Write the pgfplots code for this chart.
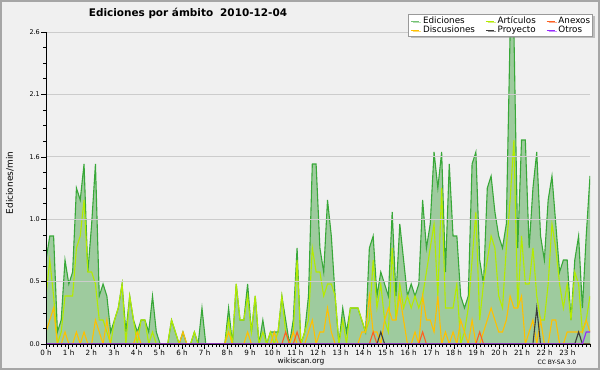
\documentclass[border=0pt]{standalone}
\usepackage{pgfplots}
\pgfplotsset{compat=1.18}
\usepackage{pgfplotstable}
\usepackage{fontspec}
\setmainfont{DejaVu Sans}
\usetikzlibrary{shadows}
\definecolor{bg}{RGB}{240,240,240}
\definecolor{edline}{RGB}{56,168,56}
\definecolor{edfill}{RGB}{158,203,158}
\definecolor{art}{RGB}{180,235,0}
\definecolor{disc}{RGB}{255,192,0}
\definecolor{anx}{RGB}{255,96,32}
\definecolor{proy}{RGB}{60,60,60}
\definecolor{otr}{RGB}{150,40,255}
\definecolor{gridc}{RGB}{204,204,204}
\pgfplotstableread{
i ed art disc anx proy otr
0 0.7 0.4 0.1 0 0 0
1 0.9 0.7 0.2 0 0 0
2 0.9 0.4 0.3 0 0 0
3 0.1 0 0 0 0 0
4 0.2 0.1 0 0 0 0
5 0.7 0.4 0.1 0 0 0
6 0.5 0.4 0 0 0 0
7 0.6 0.4 0 0 0 0
8 1.3 0.8 0.1 0 0 0
9 1.2 0.9 0 0 0 0
10 1.5 1.2 0.1 0 0 0
11 0.6 0.6 0 0 0 0
12 1.0 0.6 0 0 0 0
13 1.5 0.5 0.2 0 0 0
14 0.4 0.2 0.1 0 0 0
15 0.5 0.2 0 0 0 0
16 0.4 0.1 0.2 0 0 0
17 0.1 0 0 0 0 0
18 0.2 0.2 0 0 0 0
19 0.3 0.3 0 0 0 0
20 0.5 0.5 0 0 0 0
21 0.1 0 0 0 0 0
22 0.4 0.4 0 0 0 0
23 0.2 0.2 0 0 0 0
24 0.1 0 0.1 0 0 0
25 0.2 0.2 0 0 0 0
26 0.2 0.2 0 0 0 0
27 0.1 0 0 0 0 0
28 0.4 0.1 0 0 0 0
29 0.1 0 0 0 0 0
30 0 0 0 0 0 0
31 0 0 0 0 0 0
32 0 0 0 0 0 0
33 0.2 0.2 0 0 0 0
34 0.1 0.1 0 0 0 0
35 0 0 0 0 0 0
36 0.1 0 0.1 0 0 0
37 0 0 0 0 0 0
38 0 0 0 0 0 0
39 0.1 0.1 0 0 0 0
40 0 0 0 0 0 0
41 0.3 0 0 0 0 0
42 0 0 0 0 0 0
43 0 0 0 0 0 0
44 0 0 0 0 0 0
45 0 0 0 0 0 0
46 0 0 0 0 0 0
47 0 0 0 0 0 0
48 0.3 0.2 0.1 0 0 0
49 0 0 0 0 0 0
50 0.5 0.5 0 0 0 0
51 0.2 0.2 0 0 0 0
52 0.2 0.2 0 0 0 0
53 0.5 0.4 0.1 0 0 0
54 0.1 0.1 0 0 0 0
55 0.4 0.4 0 0 0 0
56 0 0 0 0 0 0
57 0.2 0.1 0 0 0 0
58 0 0 0 0 0 0
59 0.1 0.1 0 0 0 0
60 0.1 0 0.1 0 0 0
61 0.1 0.1 0 0 0 0
62 0.4 0.4 0 0 0 0
63 0.2 0.1 0 0.1 0 0
64 0 0 0 0 0 0
65 0.2 0.1 0.1 0 0 0
66 0.8 0.7 0 0.1 0 0
67 0 0 0 0 0 0
68 0.1 0.1 0 0 0 0
69 0.4 0.2 0.1 0 0 0
70 1.5 0.8 0.2 0 0 0
71 1.5 0.6 0 0 0 0
72 0.8 0.6 0.1 0 0 0
73 0.6 0.4 0.1 0 0 0
74 1.2 0.5 0.3 0 0 0
75 0.9 0.5 0.1 0 0 0
76 0.4 0.4 0 0 0 0
77 0 0 0 0 0 0
78 0.3 0.2 0 0 0 0
79 0.1 0 0 0 0 0
80 0.3 0.3 0 0 0 0
81 0.3 0.3 0 0 0 0
82 0.3 0.3 0 0 0 0
83 0.2 0.2 0.1 0 0 0
84 0.1 0.1 0.1 0 0 0
85 0.8 0.2 0.4 0 0 0
86 0.9 0.7 0.1 0.1 0 0
87 0.4 0.3 0.1 0 0 0
88 0.6 0.5 0 0 0.1 0
89 0.5 0.2 0.2 0 0 0
90 0.4 0.1 0.3 0 0 0
91 1.1 0.8 0.2 0 0 0
92 0.4 0.2 0.2 0 0 0
93 1.0 0.5 0.4 0 0 0
94 0.7 0.3 0.2 0 0 0
95 0.4 0.4 0 0 0 0
96 0.5 0.3 0 0 0 0
97 0.4 0.4 0.1 0 0 0
98 0.5 0.3 0 0 0 0
99 1.2 0.4 0.4 0.1 0 0
100 0.8 0.6 0.2 0 0 0
101 1.0 0.8 0.2 0 0 0
102 1.6 1.0 0.1 0 0 0
103 1.3 0.4 0.4 0 0 0
104 1.6 1.3 0 0 0 0
105 0.6 0.3 0.1 0 0 0
106 1.5 0.3 0 0 0 0
107 0.9 0.3 0.1 0 0 0
108 0.9 0.5 0 0 0 0
109 0.4 0 0.2 0 0 0
110 0.3 0.1 0.1 0 0 0
111 0.4 0.3 0 0 0 0
112 1.5 0.7 0.2 0 0 0
113 1.6 1.1 0 0 0 0
114 0.7 0.2 0 0.1 0 0
115 0.5 0.5 0.1 0 0 0
116 1.3 0.7 0.2 0 0 0
117 1.4 0.9 0.3 0 0 0
118 1.1 0.8 0.2 0 0 0
119 0.9 0.4 0.1 0 0 0
120 0.8 0.3 0.1 0 0 0
121 1.0 0.8 0.2 0 0 0
122 2.6 1.2 0.4 0 0 0
123 2.6 1.7 0.3 0 0 0
124 0.8 0.3 0.3 0 0 0
125 1.7 0.9 0.4 0 0 0
126 1.7 0.5 0 0 0 0
127 0.8 0.5 0.1 0 0 0
128 1.3 0.8 0.2 0 0 0
129 1.6 0.4 0 0 0.3 0
130 0.9 0.2 0.2 0 0 0
131 0.7 0.2 0 0 0 0
132 1.2 0.5 0 0 0 0
133 1.4 1.0 0.2 0 0 0
134 1.0 0.8 0.2 0 0 0
135 0.6 0.5 0 0 0 0
136 0.7 0.3 0 0 0 0
137 0.7 0.5 0.1 0 0 0
138 0.2 0.2 0.1 0 0 0
139 0.7 0.6 0.1 0 0 0
140 0.9 0.5 0.1 0 0.1 0
141 0.3 0.1 0.1 0 0 0
142 0.9 0.2 0.2 0 0 0.1
143 1.4 0.4 0.1 0 0 0.1
}\datatable
\begin{document}
\begin{tikzpicture}[x=1bp,y=1bp]
\useasboundingbox (0,0) rectangle (600,370);
\fill[bg] (0,0) rectangle (600,370);
\draw[black!35, line width=2bp] (1,1) rectangle (599,369);
\begin{axis}[
  at={(46bp,26bp)}, anchor=south west,
  scale only axis, width=544bp, height=312bp,
  xmin=0, xmax=143, ymin=0, ymax=2.6,
  axis x line*=bottom, axis y line*=left,
  axis line style={-, black, line width=0.9bp},
  axis on top,
  xtick={0,5.958333,...,137.1},
  xticklabels={0 h,1 h,2 h,3 h,4 h,5 h,6 h,7 h,8 h,9 h,10 h,11 h,12 h,13 h,14 h,15 h,16 h,17 h,18 h,19 h,20 h,21 h,22 h,23 h},
  minor xtick={0,0.993056,...,143.1},
  ytick={0,0.52,1.04,1.56,2.08,2.6},
  yticklabels={0.0,0.5,1.0,1.6,2.1,2.6},
  minor y tick num=3,
  tick align=outside,
  major tick length=5bp, minor tick length=3bp,
  tick style={black, line width=0.6bp},
  ymajorgrids, grid style={gridc, line width=0.8bp},
  x tick label style={font=\fontsize{7.2}{8}\selectfont, inner sep=1bp},
  y tick label style={font=\fontsize{6.5}{7}\selectfont, inner sep=1bp},
  legend columns=3,
  legend cell align=left,
  legend style={at={(rel axis cs:1.0055,1.0577)}, anchor=north east,
    draw=black!40, line width=1bp, fill=white,
    drop shadow={shadow xshift=2bp, shadow yshift=-2bp, fill=black!45},
    font=\fontsize{8.8}{9}\selectfont,
    inner sep=2bp, row sep=0pt,
    nodes={inner sep=0.4bp, text height=6.4bp, text depth=1.8bp},
    /tikz/every odd column/.append style={column sep=3bp},
    /tikz/every even column/.append style={column sep=10bp}},
  legend image code/.code={\draw[#1, line width=0.8bp] (0bp,0bp) -- (8bp,0bp);},
]
\addlegendimage{edline!70}\addlegendentry{Ediciones}
\addlegendimage{art}\addlegendentry{Artículos}
\addlegendimage{anx}\addlegendentry{Anexos}
\addlegendimage{disc}\addlegendentry{Discusiones}
\addlegendimage{proy}\addlegendentry{Proyecto}
\addlegendimage{otr}\addlegendentry{Otros}
\addplot[fill=edfill, draw=none, forget plot] table[x=i,y=ed]{\datatable} \closedcycle;
\addplot[edline, line width=1.1bp, forget plot] table[x=i,y=ed]{\datatable};
\addplot[art, line width=1.1bp, forget plot] table[x=i,y=art]{\datatable};
\addplot[disc, line width=1.1bp, forget plot] table[x=i,y=disc]{\datatable};
\addplot[anx, line width=1.1bp, forget plot] table[x=i,y=anx]{\datatable};
\addplot[proy, line width=1.1bp, forget plot] table[x=i,y=proy]{\datatable};
\addplot[otr, line width=1.1bp, forget plot] table[x=i,y=otr]{\datatable};
\end{axis}
\node[font=\bfseries\fontsize{10.5}{12}\selectfont] at (188,357) {Ediciones por ámbito\hspace{7bp}2010-12-04};
\node[rotate=90, font=\fontsize{9}{10}\selectfont] at (10,187) {Ediciones/min};
\node[font=\fontsize{7.5}{8}\selectfont] at (301,9) {wikiscan.org};
\node[font=\fontsize{6}{7}\selectfont] at (557,8) {CC BY-SA 3.0};
\end{tikzpicture}
\end{document}
